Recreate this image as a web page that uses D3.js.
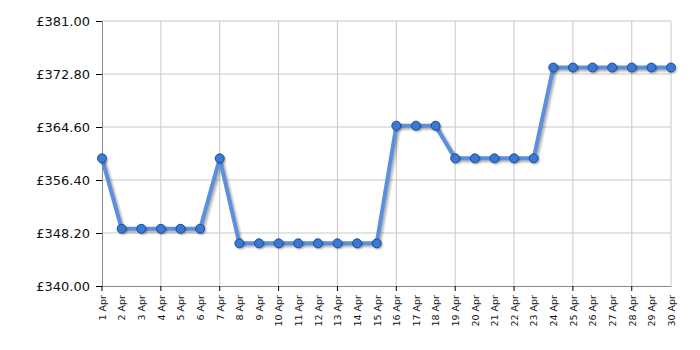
<!DOCTYPE html>
<html>
<head>
<meta charset="utf-8">
<script src="https://cdn.jsdelivr.net/npm/d3@7"></script>
<style>
  body { margin: 0; background: #fff; }
  svg { display: block; }
</style>
</head>
<body>
<div id="chart"></div>
<script>
// price history, one value per day of April
const days = d3.range(1, 31).map(d => d + " Apr");
const prices = [
  359.75, 348.85, 348.85, 348.85, 348.85, 348.85, 359.75, 346.6, 346.6, 346.6,
  346.6, 346.6, 346.6, 346.6, 346.6, 364.8, 364.8, 364.8, 359.75, 359.75,
  359.75, 359.75, 359.75, 373.8, 373.8, 373.8, 373.8, 373.8, 373.8, 373.8
];
const yTicks = [340, 348.2, 356.4, 364.6, 372.8, 381];
const gridDays = days.filter((d, i) => i % 3 === 0);

const width = 700, height = 350;
const margin = { top: 21, right: 29, bottom: 64, left: 102 };
const innerW = width - margin.left - margin.right;
const innerH = height - margin.top - margin.bottom;

const svg = d3.select("#chart").append("svg")
  .attr("width", width)
  .attr("height", height);

const defs = svg.append("defs");
const blur = defs.append("filter").attr("id", "shadow")
  .attr("x", "-10%").attr("y", "-10%").attr("width", "120%").attr("height", "130%");
blur.append("feGaussianBlur").attr("stdDeviation", 1);

const g = svg.append("g")
  .attr("transform", `translate(${margin.left},${margin.top})`);

const x = d3.scalePoint().domain(days).range([0, innerW]);
const y = d3.scaleLinear().domain([340, 381]).range([innerH, 0]);

// gridlines
g.append("g").selectAll("line.hgrid")
  .data(yTicks.slice(1))
  .join("line")
  .attr("x1", 0).attr("x2", innerW)
  .attr("y1", d => y(d)).attr("y2", d => y(d))
  .attr("stroke", "#c8c8c8");

g.append("g").selectAll("line.vgrid")
  .data(gridDays.slice(1))
  .join("line")
  .attr("x1", d => x(d)).attr("x2", d => x(d))
  .attr("y1", 0).attr("y2", innerH)
  .attr("stroke", "#c8c8c8");

// right edge
g.append("line")
  .attr("x1", innerW).attr("x2", innerW)
  .attr("y1", 0).attr("y2", innerH)
  .attr("stroke", "#c8c8c8");

// y axis
const yAxis = g.append("g")
  .call(d3.axisLeft(y).tickValues(yTicks).tickSize(6).tickPadding(6)
    .tickFormat(d => "£" + d3.format(".2f")(d)));
yAxis.select(".domain").attr("stroke", "#888");
yAxis.selectAll(".tick line").attr("stroke", "#000");
yAxis.selectAll("text")
  .attr("fill", "#111")
  .style("font-family", "Verdana, 'DejaVu Sans', sans-serif")
  .style("font-size", "13px");

// x axis
const xAxis = g.append("g")
  .attr("transform", `translate(0,${innerH})`)
  .call(d3.axisBottom(x).tickSize(0).tickPadding(0));
xAxis.select(".domain").attr("stroke", "#888");
xAxis.selectAll(".tick text")
  .attr("transform", "rotate(-90)")
  .attr("text-anchor", "end")
  .attr("x", -9)
  .attr("y", 0)
  .attr("dy", "0.35em")
  .attr("fill", "#111")
  .style("font-family", "Verdana, 'DejaVu Sans', sans-serif")
  .style("font-size", "9.5px");

// x tick marks every third day
g.append("g").selectAll("line.xtick")
  .data(gridDays)
  .join("line")
  .attr("x1", d => x(d)).attr("x2", d => x(d))
  .attr("y1", innerH).attr("y2", innerH + 5)
  .attr("stroke", "#000");

// series
const line = d3.line()
  .x((d, i) => x(days[i]))
  .y(d => y(d));

g.append("path")
  .datum(prices)
  .attr("d", line)
  .attr("transform", "translate(2,2)")
  .attr("fill", "none")
  .attr("stroke", "rgba(0,0,0,0.3)")
  .attr("stroke-width", 4)
  .attr("stroke-linejoin", "round")
  .attr("filter", "url(#shadow)");

g.append("path")
  .datum(prices)
  .attr("d", line)
  .attr("fill", "none")
  .attr("stroke", "#5b90e0")
  .attr("stroke-width", 4)
  .attr("stroke-linejoin", "round");

g.append("g").selectAll("circle.shadow")
  .data(prices)
  .join("circle")
  .attr("cx", (d, i) => x(days[i]) + 1.5)
  .attr("cy", d => y(d) + 1.5)
  .attr("r", 4.5)
  .attr("fill", "rgba(0,0,0,0.3)")
  .attr("filter", "url(#shadow)");

g.append("g").selectAll("circle.pt")
  .data(prices)
  .join("circle")
  .attr("cx", (d, i) => x(days[i]))
  .attr("cy", d => y(d))
  .attr("r", 4.5)
  .attr("fill", "#3a78d2")
  .attr("stroke", "#1d4f9a")
  .attr("stroke-width", 1);
</script>
</body>
</html>
